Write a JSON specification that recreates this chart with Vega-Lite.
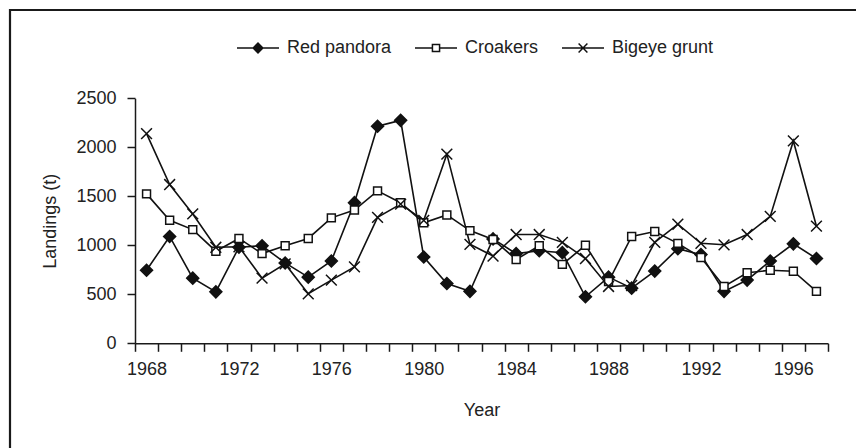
{
  "$schema": "https://vega.github.io/schema/vega-lite/v6.json",
  "width": 850,
  "height": 442,
  "autosize": {"type": "none"},
  "padding": {"left": 10, "top": 10, "right": -4, "bottom": -4},
  "background": "white",
  "config": {
    "view": {"stroke": "#1a1a1a", "strokeWidth": 2.2},
    "font": "Liberation Sans",
    "axis": {
      "grid": false,
      "domainColor": "#1a1a1a",
      "tickColor": "#1a1a1a",
      "labelColor": "#222222",
      "titleColor": "#222222",
      "labelFontSize": 18,
      "titleFontSize": 18,
      "titleFontWeight": "normal",
      "labelFont": "Liberation Sans",
      "titleFont": "Liberation Sans",
      "tickSize": 8,
      "domainWidth": 1.5,
      "tickWidth": 1.5
    }
  },
  "datasets": {
    "landings": [
      {"year": 1968, "series": "Red pandora", "value": 745},
      {"year": 1969, "series": "Red pandora", "value": 1090},
      {"year": 1970, "series": "Red pandora", "value": 665},
      {"year": 1971, "series": "Red pandora", "value": 525},
      {"year": 1972, "series": "Red pandora", "value": 980},
      {"year": 1973, "series": "Red pandora", "value": 995},
      {"year": 1974, "series": "Red pandora", "value": 820},
      {"year": 1975, "series": "Red pandora", "value": 675},
      {"year": 1976, "series": "Red pandora", "value": 840},
      {"year": 1977, "series": "Red pandora", "value": 1435},
      {"year": 1978, "series": "Red pandora", "value": 2215},
      {"year": 1979, "series": "Red pandora", "value": 2275},
      {"year": 1980, "series": "Red pandora", "value": 880},
      {"year": 1981, "series": "Red pandora", "value": 610},
      {"year": 1982, "series": "Red pandora", "value": 530},
      {"year": 1983, "series": "Red pandora", "value": 1065},
      {"year": 1984, "series": "Red pandora", "value": 915},
      {"year": 1985, "series": "Red pandora", "value": 945},
      {"year": 1986, "series": "Red pandora", "value": 925},
      {"year": 1987, "series": "Red pandora", "value": 475},
      {"year": 1988, "series": "Red pandora", "value": 675},
      {"year": 1989, "series": "Red pandora", "value": 563},
      {"year": 1990, "series": "Red pandora", "value": 737},
      {"year": 1991, "series": "Red pandora", "value": 965},
      {"year": 1992, "series": "Red pandora", "value": 905},
      {"year": 1993, "series": "Red pandora", "value": 530},
      {"year": 1994, "series": "Red pandora", "value": 645},
      {"year": 1995, "series": "Red pandora", "value": 840},
      {"year": 1996, "series": "Red pandora", "value": 1015},
      {"year": 1997, "series": "Red pandora", "value": 865},
      {"year": 1968, "series": "Croakers", "value": 1525},
      {"year": 1969, "series": "Croakers", "value": 1255},
      {"year": 1970, "series": "Croakers", "value": 1160},
      {"year": 1971, "series": "Croakers", "value": 940},
      {"year": 1972, "series": "Croakers", "value": 1070},
      {"year": 1973, "series": "Croakers", "value": 915},
      {"year": 1974, "series": "Croakers", "value": 995},
      {"year": 1975, "series": "Croakers", "value": 1070},
      {"year": 1976, "series": "Croakers", "value": 1280},
      {"year": 1977, "series": "Croakers", "value": 1360},
      {"year": 1978, "series": "Croakers", "value": 1555},
      {"year": 1979, "series": "Croakers", "value": 1435},
      {"year": 1980, "series": "Croakers", "value": 1230},
      {"year": 1981, "series": "Croakers", "value": 1310},
      {"year": 1982, "series": "Croakers", "value": 1150},
      {"year": 1983, "series": "Croakers", "value": 1060},
      {"year": 1984, "series": "Croakers", "value": 855},
      {"year": 1985, "series": "Croakers", "value": 995},
      {"year": 1986, "series": "Croakers", "value": 805},
      {"year": 1987, "series": "Croakers", "value": 1000},
      {"year": 1988, "series": "Croakers", "value": 630},
      {"year": 1989, "series": "Croakers", "value": 1090},
      {"year": 1990, "series": "Croakers", "value": 1140},
      {"year": 1991, "series": "Croakers", "value": 1020},
      {"year": 1992, "series": "Croakers", "value": 875},
      {"year": 1993, "series": "Croakers", "value": 580},
      {"year": 1994, "series": "Croakers", "value": 720},
      {"year": 1995, "series": "Croakers", "value": 745},
      {"year": 1996, "series": "Croakers", "value": 735},
      {"year": 1997, "series": "Croakers", "value": 530},
      {"year": 1968, "series": "Bigeye grunt", "value": 2140},
      {"year": 1969, "series": "Bigeye grunt", "value": 1620},
      {"year": 1970, "series": "Bigeye grunt", "value": 1320},
      {"year": 1971, "series": "Bigeye grunt", "value": 980},
      {"year": 1972, "series": "Bigeye grunt", "value": 985},
      {"year": 1973, "series": "Bigeye grunt", "value": 665},
      {"year": 1974, "series": "Bigeye grunt", "value": 810},
      {"year": 1975, "series": "Bigeye grunt", "value": 505},
      {"year": 1976, "series": "Bigeye grunt", "value": 645},
      {"year": 1977, "series": "Bigeye grunt", "value": 780},
      {"year": 1978, "series": "Bigeye grunt", "value": 1285},
      {"year": 1979, "series": "Bigeye grunt", "value": 1420},
      {"year": 1980, "series": "Bigeye grunt", "value": 1255},
      {"year": 1981, "series": "Bigeye grunt", "value": 1930},
      {"year": 1982, "series": "Bigeye grunt", "value": 1010},
      {"year": 1983, "series": "Bigeye grunt", "value": 890},
      {"year": 1984, "series": "Bigeye grunt", "value": 1110},
      {"year": 1985, "series": "Bigeye grunt", "value": 1110},
      {"year": 1986, "series": "Bigeye grunt", "value": 1030},
      {"year": 1987, "series": "Bigeye grunt", "value": 865},
      {"year": 1988, "series": "Bigeye grunt", "value": 580},
      {"year": 1989, "series": "Bigeye grunt", "value": 590},
      {"year": 1990, "series": "Bigeye grunt", "value": 1030},
      {"year": 1991, "series": "Bigeye grunt", "value": 1215},
      {"year": 1992, "series": "Bigeye grunt", "value": 1020},
      {"year": 1993, "series": "Bigeye grunt", "value": 1005},
      {"year": 1994, "series": "Bigeye grunt", "value": 1110},
      {"year": 1995, "series": "Bigeye grunt", "value": 1295},
      {"year": 1996, "series": "Bigeye grunt", "value": 2065},
      {"year": 1997, "series": "Bigeye grunt", "value": 1195}
    ]
  },
  "data": {"name": "landings"},
  "encoding": {
    "x": {
      "field": "year",
      "type": "ordinal",
      "bandPosition": 0.5,
      "scale": {"type": "band", "range": [125, 818], "paddingInner": 0, "paddingOuter": 0},
      "axis": {
        "title": "Year",
        "tickBand": "extent",
        "labelAngle": 0,
        "labelOverlap": false,
        "labelExpr": "datum.value % 4 == 0 ? datum.label : ''",
        "offset": -108.7,
        "labelPadding": 9,
        "titlePadding": 23
      }
    },
    "y": {
      "field": "value",
      "type": "quantitative",
      "scale": {"domain": [0, 2500], "range": [333.3, 88.3], "nice": false},
      "axis": {
        "title": "Landings (t)",
        "values": [0, 500, 1000, 1500, 2000, 2500],
        "format": "d",
        "offset": -125,
        "labelPadding": 11,
        "titlePadding": 16
      }
    }
  },
  "layer": [
    {
      "mark": {"type": "line", "stroke": "#111111", "strokeWidth": 1.6},
      "encoding": {"detail": {"field": "series"}}
    },
    {
      "mark": {"type": "point", "stroke": "#111111", "strokeWidth": 1.5, "size": 144, "opacity": 1},
      "encoding": {
        "fill": {
          "field": "series",
          "scale": {"domain": ["Red pandora", "Croakers", "Bigeye grunt"], "range": ["#111111", "white", "transparent"]},
          "legend": null
        },
        "shape": {
          "field": "series",
          "scale": {
            "domain": ["Red pandora", "Croakers", "Bigeye grunt"],
            "range": ["M-1,0L0,-1L1,0L0,1Z", "M-0.66,-0.66H0.66V0.66H-0.66Z", "M-0.9,-0.9L0.9,0.9M-0.9,0.9L0.9,-0.9"]
          },
          "legend": null
        }
      }
    },
    {
      "transform": [{"filter": "datum.year < 0"}],
      "mark": {"type": "point", "stroke": "#111111", "strokeWidth": 1.5, "size": 1764, "opacity": 1},
      "encoding": {
        "shape": {
          "field": "series",
          "scale": {
            "domain": ["Red pandora", "Croakers", "Bigeye grunt"],
            "range": [
              "M-1,0H1M-0.23,0L0,-0.23L0.23,0L0,0.23ZM-0.16,0L0,-0.16L0.16,0L0,0.16ZM-0.09,0L0,-0.09L0.09,0L0,0.09ZM-0.03,0L0,-0.03L0.03,0L0,0.03Z",
              "M-1,0H-0.17M0.17,0H1M-0.17,-0.17H0.17V0.17H-0.17Z",
              "M-1,0H1M-0.21,-0.21L0.21,0.21M-0.21,0.21L0.21,-0.21"
            ]
          },
          "legend": {
            "orient": "none",
            "legendX": 226,
            "legendY": 16,
            "direction": "horizontal",
            "title": null,
            "padding": 0,
            "labelFontSize": 18,
            "labelFont": "Liberation Sans",
            "labelColor": "#222222",
            "symbolSize": 1764,
            "labelOffset": 7,
            "columnPadding": 20,
            "symbolStrokeWidth": 1.5
          }
        }
      }
    }
  ],
  "resolve": {"scale": {"shape": "independent"}}
}
